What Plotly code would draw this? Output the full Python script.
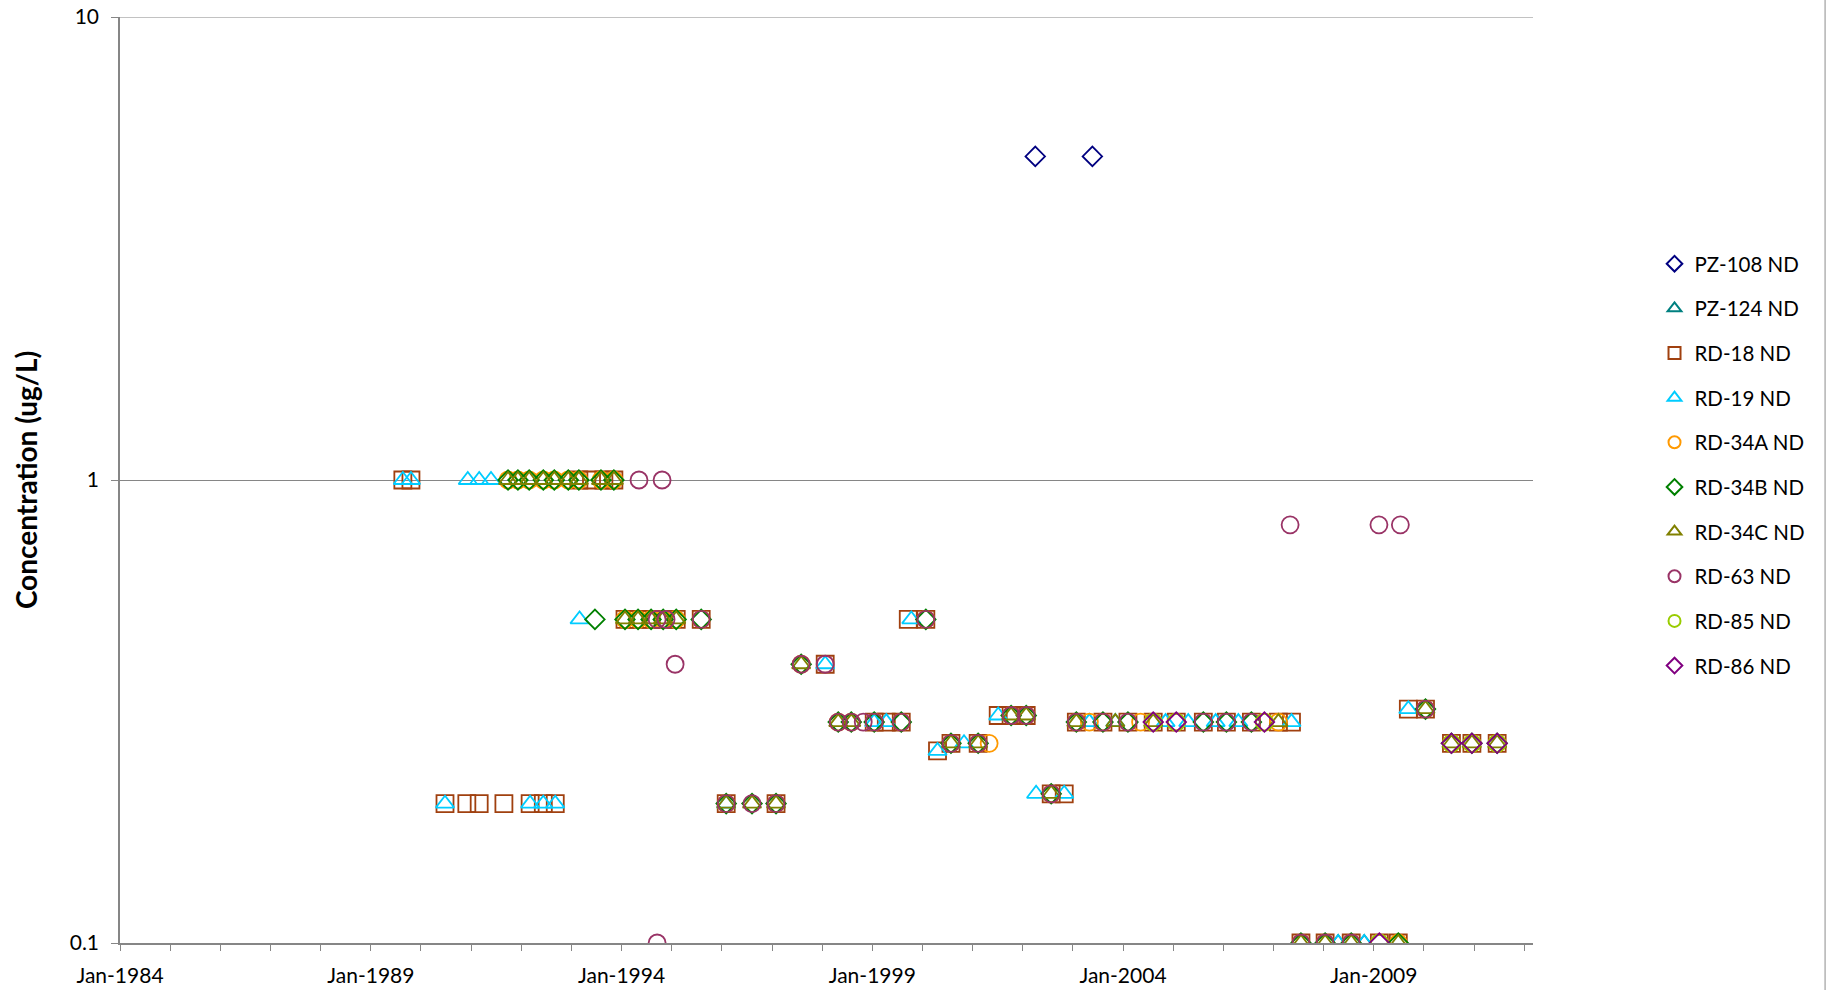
import plotly.graph_objects as go

# ---------------- data ----------------
series_names = ["PZ-108 ND", "PZ-124 ND", "RD-18 ND", "RD-19 ND", "RD-34A ND",
                "RD-34B ND", "RD-34C ND", "RD-63 ND", "RD-85 ND", "RD-86 ND"]
series_colors = ["#000080", "#008080", "#A0400F", "#00CCFF", "#FF9900",
                 "#008000", "#808000", "#993366", "#99CC00", "#800080"]
series_symbols = ["diamond-open", "triangle-up-open", "square-open", "triangle-up-open",
                  "circle-open", "diamond-open", "triangle-up-open", "circle-open",
                  "circle-open", "diamond-open"]

pz108_dates = ["2002-04-02", "2003-05-23"]
pz108_vals = [5, 5]

pz124_dates = ["2008-04-16", "2008-10-23"]
pz124_vals = [0.1, 0.1]

rd18_dates = ["1989-08-22", "1989-10-20",
              "1990-06-25", "1990-12-01", "1991-03-01", "1991-08-28", "1992-03-06", "1992-06-10", "1992-09-05",
              "1993-02-24", "1993-05-27", "1993-08-25", "1993-11-06",
              "1994-01-26", "1994-05-01", "1994-08-04", "1994-10-31", "1995-02-03", "1995-08-04",
              "1996-02-02", "1997-01-30", "1998-01-23",
              "1999-01-15", "1999-04-13", "1999-07-31", "1999-09-20", "2000-01-26",
              "2000-04-20", "2000-07-27", "2001-02-10",
              "2001-07-06", "2001-10-08", "2002-01-26", "2002-07-27", "2002-10-30",
              "2003-01-26", "2003-08-08", "2004-02-06", "2004-08-08", "2005-01-23", "2005-08-08",
              "2006-01-23", "2006-07-24", "2007-02-06", "2007-05-12",
              "2007-07-20", "2008-01-12", "2008-07-20", "2009-02-10", "2009-06-28",
              "2009-09-09", "2010-01-12", "2010-07-20", "2010-12-16", "2011-06-18"]
rd18_vals = [1, 1,
             0.2, 0.2, 0.2, 0.2, 0.2, 0.2, 0.2,
             1, 1, 1, 1,
             0.5, 0.5, 0.5, 0.5, 0.5, 0.5,
             0.2, 0.2, 0.4,
             0.3, 0.3, 0.3, 0.5, 0.5,
             0.26, 0.27, 0.27,
             0.31, 0.31, 0.31, 0.21, 0.21,
             0.3, 0.3, 0.3, 0.3, 0.3, 0.3,
             0.3, 0.3, 0.3, 0.3,
             0.1, 0.1, 0.1, 0.1, 0.1,
             0.32, 0.32, 0.27, 0.27, 0.27]

rd19_dates = ["1989-08-22", "1989-10-20", "1990-12-08", "1991-03-01", "1991-05-26",
              "1990-06-25", "1992-03-06", "1992-06-10", "1992-09-05",
              "1993-03-01", "1996-02-02", "1998-01-23", "1999-01-15", "1999-04-13",
              "1999-10-12", "2000-04-20", "2000-10-30", "2001-07-06",
              "2002-04-08", "2002-10-30",
              "2003-05-01", "2003-11-06", "2004-11-06", "2005-04-20", "2005-11-06", "2006-04-20", "2007-05-12",
              "2008-04-16", "2008-10-23", "2009-09-09"]
rd19_vals = [1, 1, 1, 1, 1,
             0.2, 0.2, 0.2, 0.2,
             0.5, 0.2, 0.4, 0.3, 0.3,
             0.5, 0.26, 0.27, 0.31,
             0.21, 0.21,
             0.3, 0.3, 0.3, 0.3, 0.3, 0.3, 0.3,
             0.1, 0.1, 0.32]

rd34a_dates = ["1991-09-27", "1991-12-08", "1992-02-28", "1992-06-10", "1992-08-29", "1992-12-09",
               "1993-02-24", "1993-08-04", "1993-11-06",
               "1994-01-26", "1994-05-01", "1994-08-04", "1994-10-31", "1995-02-03", "1995-08-04",
               "1996-02-02", "1997-01-30", "1997-08-01",
               "1998-04-28", "1998-08-01", "1999-01-15", "1999-07-31", "2000-01-26",
               "2000-07-27", "2001-02-10", "2001-05-01", "2001-10-08", "2002-01-26", "2002-07-27",
               "2003-01-26", "2003-05-01", "2003-08-08", "2004-05-08", "2004-08-08", "2005-01-23",
               "2006-10-27", "2007-02-06",
               "2007-07-20", "2008-01-12", "2008-07-20", "2009-02-10", "2009-06-28",
               "2010-01-12", "2010-07-20", "2010-12-16", "2011-06-18"]
rd34a_vals = [1, 1, 1, 1, 1, 1,
              1, 1, 1,
              0.5, 0.5, 0.5, 0.5, 0.5, 0.5,
              0.2, 0.2, 0.4,
              0.3, 0.3, 0.3, 0.3, 0.5,
              0.27, 0.27, 0.27, 0.31, 0.31, 0.21,
              0.3, 0.3, 0.3, 0.3, 0.3, 0.3,
              0.3, 0.3,
              0.1, 0.1, 0.1, 0.1, 0.1,
              0.32, 0.27, 0.27, 0.27]

rd34b_dates = ["1991-09-27", "1991-12-08", "1992-02-28", "1992-06-10", "1992-08-29", "1992-12-09",
               "1993-02-24", "1993-08-04", "1993-11-06",
               "1993-06-21",
               "1994-01-26", "1994-05-01", "1994-08-04", "1994-10-31", "1995-02-03", "1995-08-04",
               "1996-02-02", "1996-08-08", "1997-01-30", "1997-08-01",
               "1998-04-28", "1998-08-01", "1999-01-15", "1999-07-31", "2000-01-26",
               "2000-07-27", "2001-02-10", "2001-10-08", "2002-01-26", "2002-07-27",
               "2003-01-26", "2003-08-08", "2004-02-06", "2005-08-08", "2006-01-23", "2006-07-24",
               "2007-07-20", "2008-01-12", "2008-07-20", "2009-06-28",
               "2010-01-12", "2010-07-20", "2010-12-16", "2011-06-18"]
rd34b_vals = [1, 1, 1, 1, 1, 1,
              1, 1, 1,
              0.5,
              0.5, 0.5, 0.5, 0.5, 0.5, 0.5,
              0.2, 0.2, 0.2, 0.4,
              0.3, 0.3, 0.3, 0.3, 0.5,
              0.27, 0.27, 0.31, 0.31, 0.21,
              0.3, 0.3, 0.3, 0.3, 0.3, 0.3,
              0.1, 0.1, 0.1, 0.1,
              0.32, 0.27, 0.27, 0.27]

rd34c_dates = ["1991-09-27", "1991-12-08", "1992-02-28", "1992-06-10", "1992-08-29", "1992-12-09",
               "1993-02-24", "1993-08-04", "1993-11-06",
               "1994-01-26", "1994-05-01", "1994-08-04", "1994-10-31", "1995-02-03",
               "1996-02-02", "1996-08-08", "1997-01-30", "1997-08-01",
               "1998-04-28", "1998-08-01",
               "2000-07-27", "2001-02-10", "2001-10-08", "2002-01-26", "2002-07-27",
               "2003-01-26", "2003-11-06", "2004-08-08", "2007-02-06",
               "2007-07-20", "2008-01-12", "2008-07-20", "2009-06-28",
               "2010-01-12", "2010-07-20", "2010-12-16", "2011-06-18"]
rd34c_vals = [1, 1, 1, 1, 1, 1,
              1, 1, 1,
              0.5, 0.5, 0.5, 0.5, 0.5,
              0.2, 0.2, 0.2, 0.4,
              0.3, 0.3,
              0.27, 0.27, 0.31, 0.31, 0.21,
              0.3, 0.3, 0.3, 0.3,
              0.1, 0.1, 0.1, 0.1,
              0.32, 0.27, 0.27, 0.27]

rd63_dates = ["1994-05-08", "1994-10-23",
              "1994-09-17", "1994-11-21", "1995-08-04",
              "1995-01-26", "1997-08-01", "1998-01-23",
              "1994-09-17",
              "1996-02-02", "1996-08-08", "1997-01-30",
              "1998-04-28", "1998-08-01", "1998-10-27", "1999-01-15", "1999-07-31", "2000-01-26",
              "2000-07-27", "2001-02-10", "2001-10-08", "2002-01-26", "2002-07-27",
              "2003-01-26", "2003-08-08", "2004-02-06", "2005-08-08", "2006-01-23", "2006-07-24",
              "2007-05-02", "2009-02-07", "2009-07-13",
              "2007-07-20", "2008-01-12", "2008-07-20",
              "2010-01-12"]
rd63_vals = [1, 1,
             0.5, 0.5, 0.5,
             0.4, 0.4, 0.4,
             0.1,
             0.2, 0.2, 0.2,
             0.3, 0.3, 0.3, 0.3, 0.3, 0.5,
             0.27, 0.27, 0.31, 0.31, 0.21,
             0.3, 0.3, 0.3, 0.3, 0.3, 0.3,
             0.8, 0.8, 0.8,
             0.1, 0.1, 0.1,
             0.32]

rd85_dates = ["2004-08-08", "2005-01-23", "2006-10-27", "2009-02-10",
              "2010-07-20", "2010-12-16", "2011-06-18"]
rd85_vals = [0.3, 0.3, 0.3, 0.1, 0.27, 0.27, 0.27]

rd86_dates = ["2004-08-08", "2005-01-23", "2006-10-27", "2009-02-10",
              "2010-07-20", "2010-12-16", "2011-06-18"]
rd86_vals = [0.3, 0.3, 0.3, 0.1, 0.27, 0.27, 0.27]

all_dates = [pz108_dates, pz124_dates, rd18_dates, rd19_dates, rd34a_dates,
             rd34b_dates, rd34c_dates, rd63_dates, rd85_dates, rd86_dates]
all_vals = [pz108_vals, pz124_vals, rd18_vals, rd19_vals, rd34a_vals,
            rd34b_vals, rd34c_vals, rd63_vals, rd85_vals, rd86_vals]

y_tickvals = [0.1, 1, 10]
y_ticktext = ["0.1", "1", "10"]

# ---------------- figure ----------------
marker_sizes = {"diamond-open": 15, "triangle-up-open": 16, "square-open": 17, "circle-open": 17}

fig = go.Figure()
for name, color, sym, xs, ys in zip(series_names, series_colors, series_symbols, all_dates, all_vals):
    fig.add_trace(go.Scatter(
        x=xs, y=ys, mode="markers", name=name, legendgroup=name,
        marker=dict(symbol=sym, size=marker_sizes[sym], color=color,
                    line=dict(color=color, width=1.8)),
    ))

grid_col = "#868686"
fig.update_layout(
    width=1828, height=990,
    margin=dict(l=120, r=295, t=17, b=47, autoexpand=False),
    paper_bgcolor="white", plot_bgcolor="white",
    font=dict(family="Lato, 'Open Sans', sans-serif", size=21, color="#000000"),
    showlegend=True,
    legend=dict(x=1.086, y=0.755, xanchor="left", yanchor="top",
                font=dict(size=20.5), itemsizing="constant",
                tracegroupgap=15, bgcolor="rgba(0,0,0,0)"),
    xaxis=dict(
        type="date", range=["1984-01-01", "2012-03-05"],
        tick0="1984-01-01", dtick="M60", tickformat="%b-%Y",
        ticks="outside", ticklen=6, tickcolor=grid_col, tickwidth=1,
        ticklabelstandoff=7,
        showline=True, linecolor=grid_col, linewidth=1.5,
        showgrid=False, zeroline=False,
        minor=dict(dtick="M12", ticks="outside", ticklen=6, tickcolor=grid_col, showgrid=False),
        tickfont=dict(size=21),
    ),
    yaxis=dict(
        type="log", range=[-1, 1],
        tickvals=y_tickvals, ticktext=y_ticktext,
        ticks="outside", ticklen=7, tickcolor=grid_col,
        ticklabelstandoff=8, ticklabeloverflow="allow",
        showline=True, linecolor=grid_col, linewidth=1.5,
        showgrid=True, gridcolor=grid_col, gridwidth=1,
        zeroline=False,
        title=dict(text="<b>Concentration (ug/L)</b>", font=dict(size=28), standoff=24),
        tickfont=dict(size=21),
    ),
    shapes=[
        dict(type="line", xref="paper", yref="y", x0=0, x1=1, y0=10, y1=10,
             line=dict(color=grid_col, width=1), layer="below"),
        dict(type="line", xref="paper", yref="paper",
             x0=1.2067, x1=1.2067, y0=-0.06, y1=1.02,
             line=dict(color="#8C8C8C", width=1)),
    ],
)

fig.write_html("out.html",
               config={"displayModeBar": False},
               post_script="document.body.style.margin='0';document.body.style.overflow='hidden';")
